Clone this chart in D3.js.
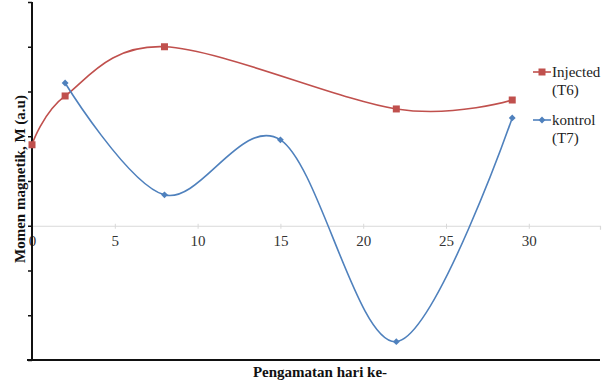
<!DOCTYPE html>
<html><head><meta charset="utf-8">
<script src="https://cdn.jsdelivr.net/npm/d3@7"></script>
<style>body{margin:0;background:#fff}svg{display:block}</style>
</head><body><svg id="c" width="613" height="382"></svg>
<script>
const days = [0, 2, 8, 15, 22, 29];
const injectedX = [0, 2, 8, 22, 29];
const injectedY = [1.81, 2.90, 4.00, 2.61, 2.81];
const kontrolX = [2, 8, 15, 22, 29];
const kontrolY = [3.19, 0.69, 1.92, -2.59, 2.41];
const xTicks = [0, 5, 10, 15, 20, 25, 30];
const yTicks = [-3, -2, -1, 0, 1, 2, 3, 4, 5];
const seriesNames = [["Injected", "(T6)"], ["kontrol", "(T7)"]];

const svg = d3.select("#c");
const x = d3.scaleLinear().domain([0, 34.3]).range([32, 600]);
const y = d3.scaleLinear().domain([-3, 5]).range([360, 2]);
const serif = "Liberation Serif, Times New Roman, serif";

// zero line (light gray) with ticks
const zeroAxis = d3.axisBottom(x).tickValues(xTicks).tickSize(4).tickFormat(d3.format("d"));
const gz = svg.append("g").attr("transform", `translate(0,${y(0)})`).call(zeroAxis);
gz.select(".domain").attr("stroke", "#d9d9d9").attr("stroke-width", 1.2);
gz.selectAll(".tick line").attr("stroke", "#d9d9d9").attr("y1", -2).attr("y2", 3);
gz.selectAll(".tick text").attr("font-family", serif).attr("font-size", 15).attr("fill", "#333").attr("dy", "0.85em");

// y axis
const ya = d3.axisLeft(y).tickValues(yTicks).tickSize(4).tickFormat("");
const gy = svg.append("g").attr("transform", `translate(32,0)`).call(ya);
gy.select(".domain").attr("stroke", "#111").attr("stroke-width", 2).attr("d", `M0,${y(5)}V${y(-3)}`);
gy.selectAll(".tick line").attr("stroke", "#111").attr("stroke-width", 1.5);

// bottom line
svg.append("line").attr("x1", 27).attr("x2", x(34.3)).attr("y1", y(-3)).attr("y2", y(-3))
  .attr("stroke", "#111").attr("stroke-width", 2);

const line = d3.line().x(d => x(d[0])).y(d => y(d[1])).curve(d3.curveCardinal.tension(0));
const red = "#c0504d", blue = "#4f81bd";
const inj = injectedX.map((d, i) => [d, injectedY[i]]);
const kon = kontrolX.map((d, i) => [d, kontrolY[i]]);

svg.append("path").datum(inj).attr("d", line).attr("fill", "none").attr("stroke", red).attr("stroke-width", 1.6);
svg.append("path").datum(kon).attr("d", line).attr("fill", "none").attr("stroke", blue).attr("stroke-width", 1.6);

svg.selectAll(".sq").data(inj).enter().append("rect")
  .attr("x", d => x(d[0]) - 3.5).attr("y", d => y(d[1]) - 3.5).attr("width", 7).attr("height", 7).attr("fill", red);
const diamond = d3.symbol().type(d3.symbolDiamond2).size(30);
svg.selectAll(".dm").data(kon).enter().append("path")
  .attr("d", diamond).attr("transform", d => `translate(${x(d[0])},${y(d[1])})`).attr("fill", blue);

// legend
const leg = [[red, 72, "sq"], [blue, 120, "dm"]];
leg.forEach((l, i) => {
  svg.append("line").attr("x1", 533).attr("x2", 551).attr("y1", l[1]).attr("y2", l[1]).attr("stroke", l[0]).attr("stroke-width", 1.6);
  if (l[2] === "sq") svg.append("rect").attr("x", 538.5).attr("y", l[1] - 3.5).attr("width", 7).attr("height", 7).attr("fill", l[0]);
  else svg.append("path").attr("d", diamond).attr("transform", `translate(542,${l[1]})`).attr("fill", l[0]);
  const t = svg.append("text").attr("font-family", serif).attr("font-size", 15).attr("fill", "#222");
  t.append("tspan").attr("x", 552).attr("y", l[1] + 5).text(seriesNames[i][0]);
  t.append("tspan").attr("x", 552).attr("y", l[1] + 23).text(seriesNames[i][1]);
});

// axis titles
svg.append("text").attr("x", 320).attr("y", 377).attr("text-anchor", "middle")
  .attr("font-family", serif).attr("font-weight", "bold").attr("font-size", 15).attr("fill", "#111").text("Pengamatan hari ke-");
svg.append("text").attr("transform", "translate(25,179) rotate(-90)").attr("text-anchor", "middle")
  .attr("font-family", serif).attr("font-weight", "bold").attr("font-size", 15).attr("fill", "#111").text("Momen magnetik, M (a.u)");
</script></body></html>
